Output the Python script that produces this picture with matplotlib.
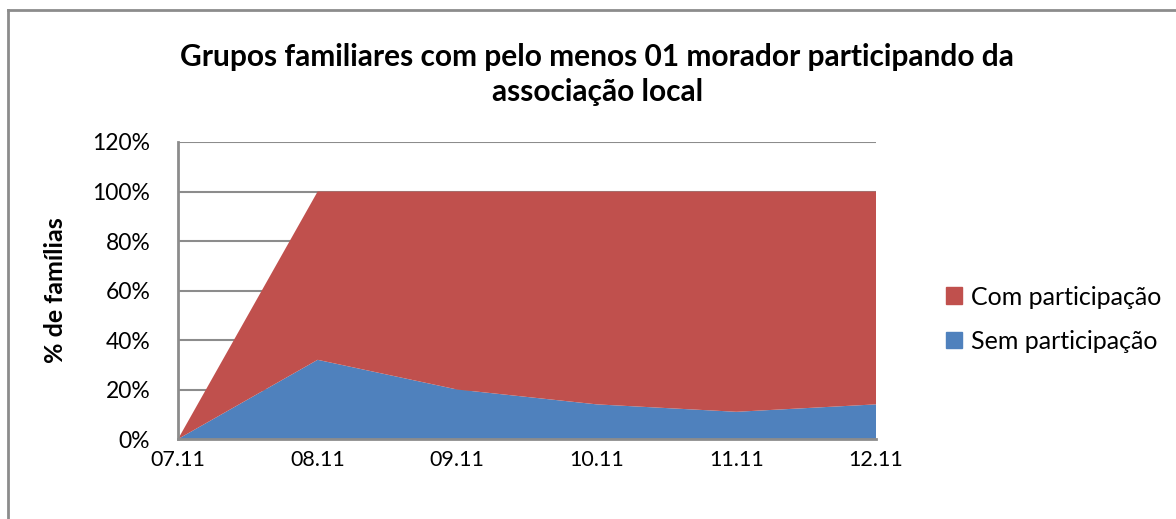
import matplotlib.pyplot as plt
from matplotlib.lines import Line2D
from matplotlib.patches import Patch

# Data (fractions of families)
datas = ["07.11", "08.11", "09.11", "10.11", "11.11", "12.11"]
sem_participacao = [0.0, 0.32, 0.20, 0.14, 0.11, 0.14]
com_participacao = [0.0, 0.68, 0.80, 0.86, 0.89, 0.86]
y_ticks = [0.0, 0.2, 0.4, 0.6, 0.8, 1.0, 1.2]

cor_sem = "#4F81BD"
cor_com = "#C0504D"

plt.rcParams["font.family"] = ["Lato", "DejaVu Sans"]

fig = plt.figure(figsize=(11.76, 5.19), dpi=100)
ax = fig.add_axes([0.1514, 0.1541, 0.5935, 0.5723])

x = list(range(len(datas)))
ax.stackplot(x, sem_participacao, com_participacao, colors=[cor_sem, cor_com], zorder=2)

ax.set_xlim(0, len(datas) - 1)
ax.set_ylim(0, 1.2)
ax.set_yticks(y_ticks)
ax.set_yticklabels([f"{int(round(v * 100))}%" for v in y_ticks], fontsize=16.5)
ax.set_xticks(x)
ax.set_xticklabels(datas, fontsize=15.5)
ax.tick_params(axis="y", length=0, pad=20)
ax.tick_params(axis="x", length=0, pad=8)
ax.yaxis.grid(True, color="#8C8C8C", linewidth=1.5, zorder=1)

for side in ["top", "right"]:
    ax.spines[side].set_visible(False)
for side in ["left", "bottom"]:
    ax.spines[side].set_color("#8C8C8C")
    ax.spines[side].set_linewidth(2)

ax.set_ylabel("% de famílias", fontsize=18, fontweight="bold", labelpad=18)

fig.text(0.508, 0.856, "Grupos familiares com pelo menos 01 morador participando da\nassociação local",
         ha="center", va="center", fontsize=21.5, fontweight="bold", linespacing=1.32)

handles = [Patch(color=cor_com), Patch(color=cor_sem)]
fig.legend(handles, ["Com participação", "Sem participação"], loc="center left",
           bbox_to_anchor=(0.785, 0.385), frameon=False, fontsize=18,
           handlelength=0.65, handleheight=0.65, handletextpad=0.35, labelspacing=0.85)

# outer chart border (top and left edges visible)
fig.add_artist(Line2D([0.0065, 0.0065], [0, 0.981], transform=fig.transFigure, color="#8C8C8C", linewidth=2))
fig.add_artist(Line2D([0.0065, 1.0], [0.981, 0.981], transform=fig.transFigure, color="#8C8C8C", linewidth=2))

fig.savefig("out.png", dpi=100)
